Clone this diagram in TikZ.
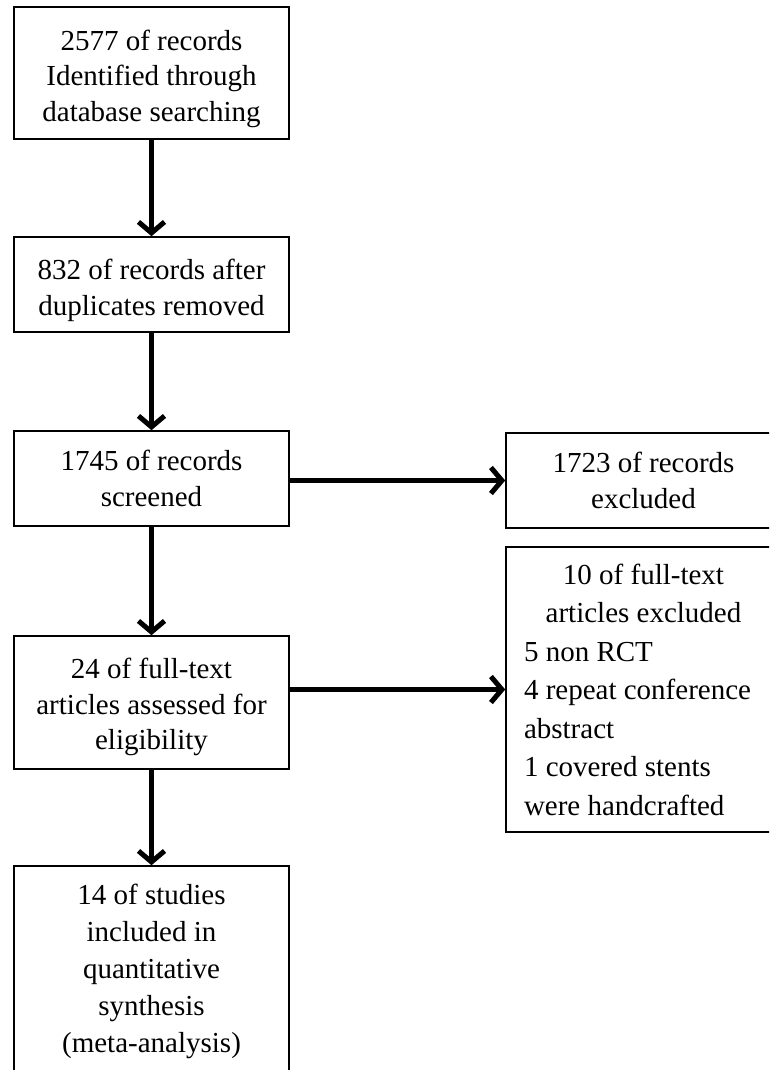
\documentclass[tikz,border=0pt]{standalone}
\usepackage{fontspec}
\setmainfont{Liberation Serif}
\usetikzlibrary{arrows.meta}

\begin{document}
\begin{tikzpicture}[x=1pt, y=-1pt,
    box/.style={draw, line width=1.6pt, minimum width=275pt, text width=239pt,
        align=flush center, inner sep=0pt, font=\fontsize{29}{35.5}\selectfont},
    listbox/.style={box, align=flush left, font=\fontsize{29}{38.5}\selectfont},
    flow/.style={line width=5pt, -{Straight Barb[length=11pt, width=26pt]}}]
    \useasboundingbox (0, 0) rectangle (769, 1070);
    \clip (0, 0) rectangle (769, 1070);

    % main column
    \node[box, minimum height=132pt] (ident) at (151.5, 73)
        {\rule{0pt}{32pt}2577 of records\\ Identified through\\ database searching};
    \node[box, minimum height=95pt] (dedup) at (151.5, 284.5)
        {\rule{0pt}{32pt}832 of records after\\ duplicates removed};
    \node[box, minimum height=95pt] (screen) at (151.5, 478.5)
        {1745 of records\\ screened};
    \node[box, minimum height=133pt] (elig) at (151.5, 702.5)
        {\rule{0pt}{30pt}24 of full-text\\ articles assessed for\\ eligibility};
    \node[box, minimum height=210pt, font=\fontsize{29}{37}\selectfont] (incl) at (151.5, 971)
        {14 of studies\\ included in\\ quantitative\\ synthesis\\ (meta-analysis)};

    % exclusions
    \node[box, minimum height=95pt] (excl) at (643.5, 480.5)
        {1723 of records\\ excluded};
    \node[listbox, minimum height=285pt] (fullexcl) at (643.5, 689.5)
        {\makebox[\hsize]{10 of full-text}\\ \makebox[\hsize]{articles excluded}\\
         5 non RCT\\ 4 repeat conference\\ abstract\\ 1 covered stents\\ were handcrafted};

    \draw[flow] (ident) -- (dedup);
    \draw[flow] (dedup) -- (screen);
    \draw[flow] (screen) -- (elig);
    \draw[flow] (elig) -- (incl);
    \draw[flow] (screen.east |- excl.west) -- (excl.west);
    \draw[flow] (elig.east |- fullexcl.west) -- (fullexcl.west);
\end{tikzpicture}
\end{document}
